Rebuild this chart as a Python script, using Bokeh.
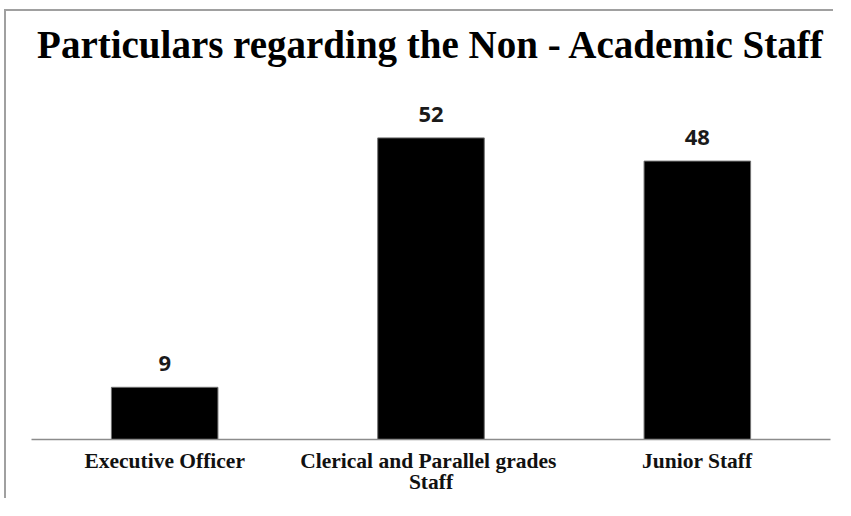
from bokeh.plotting import figure
from bokeh.models import ColumnDataSource, LabelSet, Title, FactorRange
from bokeh.core.properties import value
from bokeh.embed import file_html
from bokeh.resources import INLINE

categories = ["Executive Officer", "Clerical and  Parallel grades\nStaff", "Junior Staff"]
counts = [9, 52, 48]
count_labels = [str(v) for v in counts]
title_text = "Particulars regarding the Non - Academic Staff"

source = ColumnDataSource(data=dict(cat=categories, count=counts, label=count_labels))

p = figure(
    x_range=FactorRange(factors=categories),
    y_range=(0, 60),
    width=829, height=489,
    output_backend="svg", toolbar_location=None,
    y_axis_location=None,
    min_border_left=25, min_border_right=5,
    min_border_top=80, min_border_bottom=61,
)
p.styles = {"margin-left": "4px", "margin-top": "9px",
            "border-left": "2px solid #a0a0a0", "border-top": "2px solid #a0a0a0"}

p.title.text = title_text
p.title.align = "center"
p.title.text_font = "Liberation Serif"
p.title.text_font_style = "bold"
p.title.text_font_size = "39px"
p.title.text_color = "black"
p.title.standoff = 10

# empty spacer between the title and the plot area
spacer = Title(text=" ", text_font_size="10px", standoff=8)
p.add_layout(spacer, "above")

p.vbar(x="cat", top="count", width=0.4, source=source,
       fill_color="black", line_color="#707070", line_width=1)

labels = LabelSet(x="cat", y="count", text="label", source=source,
                  text_align="center", text_baseline="bottom", y_offset=16,
                  text_font=value("Open Sans"), text_font_style="bold",
                  text_font_size="22px", text_color="#1a1a1a")
p.add_layout(labels)

p.xgrid.grid_line_color = None
p.ygrid.grid_line_color = None
p.outline_line_color = None
p.background_fill_color = "white"
p.border_fill_color = "white"

ax = p.xaxis[0]
ax.axis_line_color = "#8c8c8c"
ax.axis_line_width = 1.5
ax.major_tick_line_color = None
ax.minor_tick_line_color = None
ax.major_label_text_font = "Liberation Serif"
ax.major_label_text_font_style = "bold"
ax.major_label_text_font_size = "21.5px"
ax.major_label_text_color = "#111111"
ax.major_label_text_line_height = 0.9
ax.major_label_standoff = 3

open("out.html", "w").write(file_html(p, INLINE))
